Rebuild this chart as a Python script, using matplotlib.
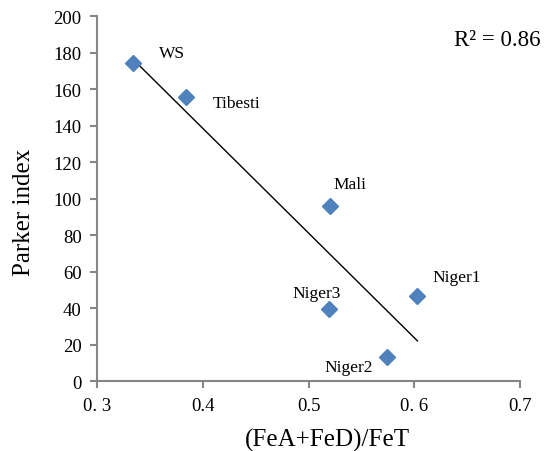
import matplotlib
matplotlib.use("Agg")
import matplotlib.pyplot as plt
import numpy as np

plt.rcParams['font.family'] = ['Liberation Serif', 'DejaVu Serif']

# sample sites: (FeA+FeD)/FeT ratio vs Parker weathering index
sites = ["WS", "Tibesti", "Mali", "Niger1", "Niger3", "Niger2"]
fe_ratio = [0.334, 0.384, 0.520, 0.603, 0.519, 0.574]
parker = [174.4, 155.6, 95.9, 46.7, 39.4, 13.3]
r2_text = "R² = 0.86"

xticks = [0.3, 0.4, 0.5, 0.6, 0.7]
xticklabels = ["0. 3", "0.4", "0.5", "0. 6", "0.7"]
yticks = [0, 20, 40, 60, 80, 100, 120, 140, 160, 180, 200]

# label offsets in points (dx, dy)
offsets = {
    "WS": (19, 7),
    "Tibesti": (19, -4),
    "Mali": (3, 16),
    "Niger1": (11, 14),
    "Niger3": (-26, 12),
    "Niger2": (-45, -7),
}

fig = plt.figure(figsize=(5.48, 4.52), dpi=100)
ax = fig.add_axes([0.177, 0.154, 0.772, 0.808])

x = np.array(fe_ratio)
y = np.array(parker)
slope, icpt = np.polyfit(x, y, 1)
xl = np.array([x.min(), x.max()])
ax.plot(xl, slope * xl + icpt, color="black", lw=1.0, zorder=2)

ax.plot(x, y, ls="none", marker="D", ms=8.5, color="#4F81BD",
        markeredgecolor="#4F81BD", zorder=3)

for name, xi, yi in zip(sites, fe_ratio, parker):
    ax.annotate(name, (xi, yi), xytext=offsets[name], textcoords="offset points",
                fontsize=12.5, ha="left", va="center")

fig.text(540 / 548, 1 - 40 / 452, r2_text, ha="right", va="center",
         fontsize=16.5)

ax.set_xlim(0.3, 0.7)
ax.set_ylim(0, 200)
ax.set_xticks(xticks)
ax.set_xticklabels(xticklabels)
ax.set_yticks(yticks)
ax.tick_params(labelsize=13.5, color="#868686", length=5, width=1.5, pad=6)

for side in ["top", "right"]:
    ax.spines[side].set_visible(False)
for side in ["left", "bottom"]:
    ax.spines[side].set_color("#868686")
    ax.spines[side].set_linewidth(1.5)

# axis titles
fig.text(327 / 548, 1 - 440 / 452, "(FeA+FeD)/FeT", fontsize=18,
         ha="center", va="center")
fig.text(24 / 548, 1 - 212 / 452, "Parker index", fontsize=18,
         ha="center", va="center", rotation=90)

fig.savefig("out.png", dpi=100)
